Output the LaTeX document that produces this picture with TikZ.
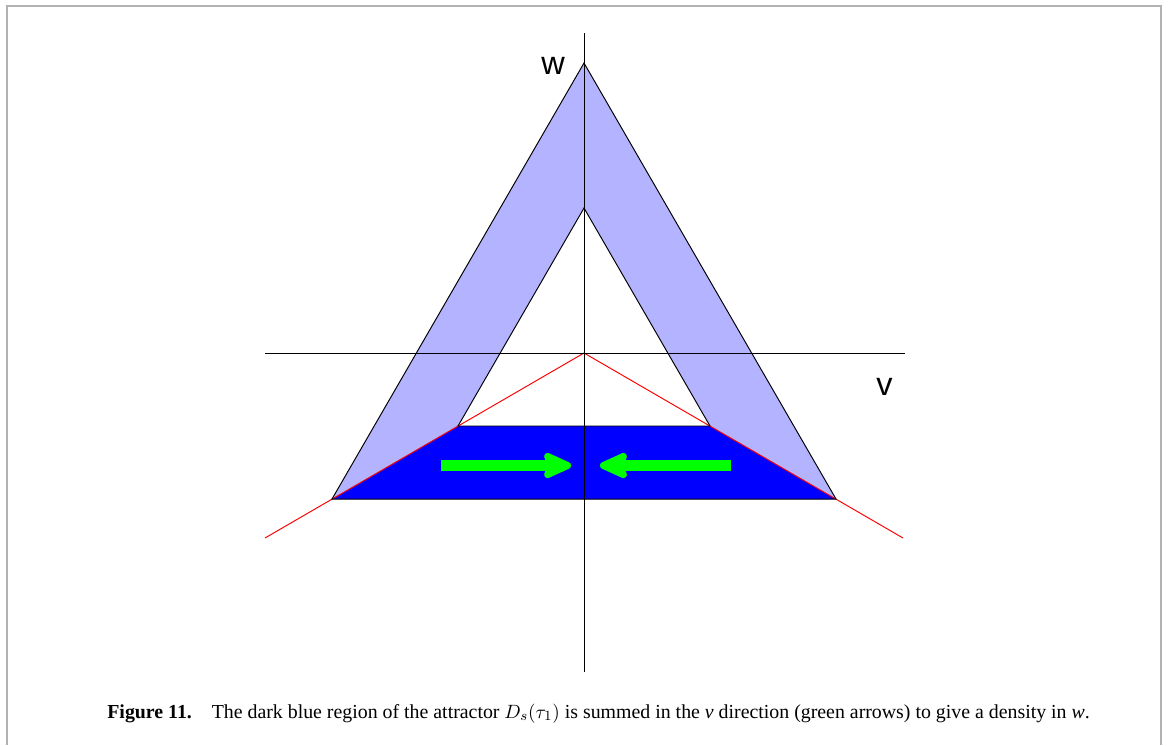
\documentclass[tikz,border=0pt]{standalone}
\usepackage{fontspec}
\setmainfont{Liberation Serif}
\newfontfamily\labelfont{Liberation Sans}
\usepackage{tikz}
\usetikzlibrary{arrows.meta}
\definecolor{lightband}{RGB}{179,179,255}
\definecolor{darkband}{RGB}{0,0,255}
\definecolor{sumgreen}{RGB}{0,255,0}
\definecolor{framegray}{RGB}{178,178,178}

\begin{document}
\begin{tikzpicture}[x=0.02cm,y=-0.02cm,>=Stealth,
  thinline/.style={line width=0.55pt},
  axislabel/.style={font=\labelfont\fontsize{18.5}{18}\selectfont,inner sep=0pt},
  sumarrow/.style={sumgreen,line width=0.22cm,-{Stealth[round,length=0.7cm,width=0.62cm,inset=0.14cm,line width=4pt]}}]
  \useasboundingbox (0,0) rectangle (1168,745);
  \draw[framegray,line width=1.2pt] (7,745) -- (7,6) -- (1161,6) -- (1161,745);
  % corners of the two triangles
  \coordinate (O) at (584,353);
  \coordinate (top) at (584,63);
  \coordinate (bl) at (332,499);
  \coordinate (br) at (836,499);
  \coordinate (itop) at (584,208);
  \coordinate (il) at (458,426);
  \coordinate (ir) at (710,426);
  \coordinate (redl) at (265,538);
  \coordinate (redr) at (903,538);
  \fill[lightband] (top) -- (bl) -- (br) -- cycle;
  \fill[white] (itop) -- (il) -- (ir) -- cycle;
  \fill[darkband] (bl) -- (il) -- (ir) -- (br) -- cycle;
  % summing arrows
  \draw[sumarrow] (441,465.5) -- (571,465.5);
  \draw[sumarrow] (731,465.5) -- (600,465.5);
  \draw[red,thinline] (redl) -- (O) -- (redr);
  \draw[thinline] (bl) -- (top) -- (br) -- cycle;
  \draw[thinline] (il) -- (itop) -- (ir) -- cycle;
  % axes
  \draw[thinline] (584,33) -- (584,672);
  \draw[thinline] (265,353) -- (905,353);
  \node[axislabel] (wlabel) at (553,65.5) {w};
  \node[axislabel] (vlabel) at (884.5,386.5) {v};
  \node[anchor=base west,inner sep=0pt,font=\fontsize{11.3}{13}\selectfont] (caption) at (107,718)
    {\textbf{Figure 11.}\quad The dark blue region of the attractor $D_s(\tau_1)$ is summed in the \textit{v} direction (green arrows) to give a density in \textit{w}.};
\end{tikzpicture}
\end{document}
